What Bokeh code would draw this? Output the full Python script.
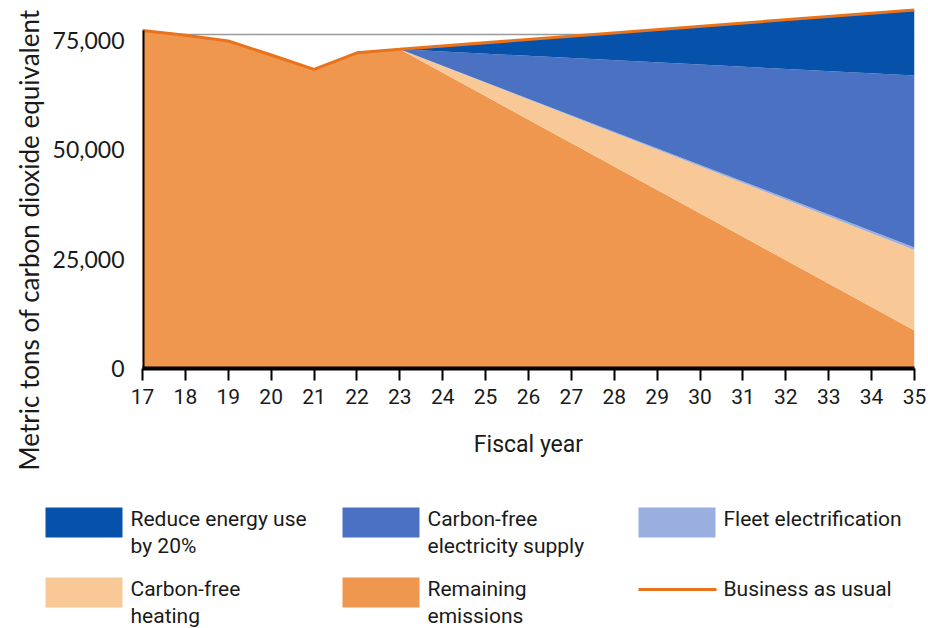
import math
from bokeh.plotting import figure
from bokeh.layouts import column
from bokeh.models import Range1d, FixedTicker, NumeralTickFormatter, Span, Title, ColumnDataSource
from bokeh.core.properties import value
from bokeh.embed import file_html
from bokeh.resources import INLINE

# ---- data ----
years = [17, 18, 19, 20, 21, 22, 23, 35]
remaining = [77300, 76200, 74900, 71700, 68400, 72200, 73000, 8700]
heating = [0, 0, 0, 0, 0, 0, 0, 18400]
fleet = [0, 0, 0, 0, 0, 0, 0, 600]
electricity = [0, 0, 0, 0, 0, 0, 0, 39300]
energy = [0, 0, 0, 0, 0, 0, 0, 15000]
bau = [77300, 76200, 74900, 71700, 68400, 72200, 73000, 82000]
reference_level = 76400
x_ticks = list(range(17, 36))
y_ticks = [0, 25000, 50000, 75000]

series_names = ["remaining", "heating", "fleet", "electricity", "energy"]
series_colors = ["#EF974F", "#F8C996", "#9AAEE0", "#4B71C2", "#0652AA"]
legend_labels = [
    ("Reduce energy use", "by 20%"),
    ("Carbon-free", "electricity supply"),
    ("Fleet electrification", ""),
    ("Carbon-free", "heating"),
    ("Remaining", "emissions"),
    ("Business as usual", ""),
]
legend_colors = ["#0652AA", "#4B71C2", "#9AAEE0", "#F8C996", "#EF974F", "#E8731C"]

src = ColumnDataSource(dict(year=years, remaining=remaining, heating=heating,
                            fleet=fleet, electricity=electricity, energy=energy, bau=bau))

TICK_FONT = "Lato"
NARROW = "Roboto"
TXT = "#1a1a1a"

main_h = 482
p = figure(width=928, height=main_h, output_backend="svg", toolbar_location=None,
           x_range=Range1d(17, 35), y_range=Range1d(0, 84160),
           min_border_left=142, min_border_right=14, min_border_top=0,
           min_border_bottom=main_h - 368)
p.outline_line_color = None
p.xgrid.grid_line_color = None
p.ygrid.grid_line_color = None

p.add_layout(Span(location=reference_level, dimension="width", line_color="#9A9A9A",
                  line_width=1.5, level="underlay"))

p.varea_stack(stackers=series_names, x="year", color=series_colors, source=src)
p.line(x="year", y="bau", source=src, line_color="#E8731C", line_width=3)
p.segment(x0=[years[0]], y0=[0], x1=[years[0]], y1=[bau[0]], line_color="black", line_width=4)

# x axis
xa = p.xaxis[0]
xa.ticker = FixedTicker(ticks=x_ticks)
xa.axis_line_color = "black"
xa.axis_line_width = 4
xa.major_tick_line_color = "black"
xa.major_tick_line_width = 2
xa.major_tick_out = 12
xa.major_tick_in = 0
xa.minor_tick_line_color = None
xa.major_label_text_font = NARROW
xa.major_label_text_font_size = "21px"
xa.major_label_text_color = TXT
xa.major_label_standoff = 8
xa.axis_label = "Fiscal year"
xa.axis_label_text_font = NARROW
xa.axis_label_text_font_style = "normal"
xa.axis_label_text_font_size = "23px"
xa.axis_label_text_color = TXT
xa.axis_label_standoff = 24

# y axis
ya = p.yaxis[0]
ya.ticker = FixedTicker(ticks=y_ticks)
ya.formatter = NumeralTickFormatter(format="0,0")
ya.axis_line_color = None
ya.major_tick_line_color = None
ya.minor_tick_line_color = None
ya.major_label_text_font = TICK_FONT
ya.major_label_text_font_size = "23px"
ya.major_label_text_color = TXT
ya.major_label_standoff = 12

p.add_layout(Title(text="Metric tons of carbon dioxide equivalent", align="left",
                   offset=-102, standoff=9, text_font=TICK_FONT, text_font_size="26px",
                   text_font_style="normal", text_color=TXT), "left")

# ---- legend ----
leg_h = 628 - main_h
lg = figure(width=928, height=leg_h, output_backend="svg", toolbar_location=None,
            x_range=Range1d(0, 928), y_range=Range1d(leg_h, 0),
            min_border=0)
lg.frame_align = False
lg.outline_line_color = None
lg.axis.visible = False
lg.grid.grid_line_color = None

col_x = [45, 342, 638]
row_y = [507 - main_h, 577 - main_h]
sw_w, sw_h = 77, 30
for i, (lab, colr) in enumerate(zip(legend_labels, legend_colors)):
    cx = col_x[i % 3]
    ry = row_y[i // 3]
    if i == 5:
        lg.line(x=[cx, cx + sw_w + 1], y=[ry + 12, ry + 12], line_color=colr, line_width=3)
    else:
        lg.rect(x=[cx + sw_w / 2], y=[ry + sw_h / 2], width=sw_w, height=sw_h,
                fill_color=colr, line_color=None)
    ty = ry + 11
    lines = [t for t in lab if t]
    lg.text(x=[cx + sw_w + 8] * len(lines), y=[ty + k * 27 for k in range(len(lines))],
            text=lines, text_font=value(NARROW), text_font_size="21px",
            text_baseline="middle", text_align="left", text_color=TXT)

layout = column(p, lg, spacing=0)
open("out.html", "w").write(file_html(layout, INLINE))
